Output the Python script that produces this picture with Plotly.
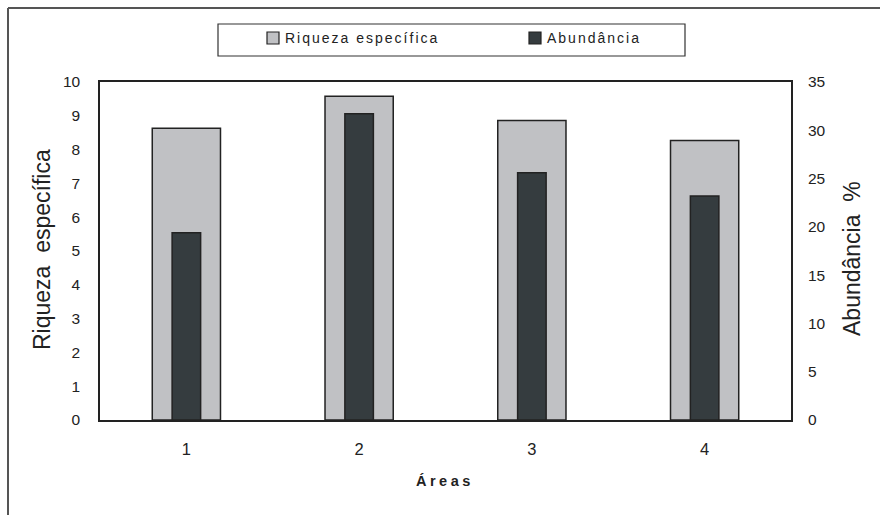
import plotly.graph_objects as go

areas = [1, 2, 3, 4]
riqueza = [8.63, 9.58, 8.86, 8.27]
abundancia = [19.4, 31.7, 25.6, 23.2]

left_ticks = list(range(0, 11))
right_ticks = list(range(0, 36, 5))

FONT = "Liberation Sans, Arial, sans-serif"
LIGHT = "#C0C1C4"
DARK = "#353C3F"
EDGE = "#222222"

# plot area geometry (px) used for paper conversions of annotations
W, H = 880, 515
ML, MR, MT, MB = 100, 89, 82, 95
PW = W - ML - MR
PH = H - MT - MB


def px(x):
    return (x - ML) / PW


def py(y):
    return (H - MB - y) / PH


fig = go.Figure()
fig.add_trace(go.Bar(
    x=areas, y=riqueza, width=0.395, name="Riqueza específica",
    marker=dict(color=LIGHT, line=dict(color=EDGE, width=1.5)),
    yaxis="y", showlegend=False,
))
fig.add_trace(go.Bar(
    x=areas, y=abundancia, width=0.165, name="Abundância",
    marker=dict(color=DARK, line=dict(color=EDGE, width=1.5)),
    yaxis="y2", showlegend=False,
))

fig.update_layout(
    width=W, height=H,
    margin=dict(l=ML, r=MR, t=MT, b=MB, pad=0),
    paper_bgcolor="white", plot_bgcolor="white",
    barmode="overlay",
    font=dict(family=FONT, size=15, color="#222"),
    xaxis=dict(
        range=[0.5, 4.5], tickmode="array", tickvals=areas,
        ticktext=[str(a) for a in areas],
        showgrid=False, zeroline=False, showline=True, linecolor=EDGE,
        linewidth=1.5, mirror=True, ticks="", ticklabelstandoff=13,
        tickfont=dict(size=16.5),
    ),
    yaxis=dict(
        range=[0, 10], tickmode="array", tickvals=left_ticks,
        showgrid=False, zeroline=False, showline=True, linecolor=EDGE,
        linewidth=1.5, mirror=True, ticks="", ticklabelstandoff=15,
        tickfont=dict(size=15.5),
    ),
    yaxis2=dict(
        range=[0, 35], tickmode="array", tickvals=right_ticks,
        overlaying="y", side="right",
        showgrid=False, zeroline=False, showline=False, ticks="",
        ticklabelstandoff=16, tickfont=dict(size=15.5),
    ),
)

annotations = [
    dict(text="Riqueza  específica", x=px(42), y=py(250), textangle=-90,
         font=dict(size=23)),
    dict(text="Abundância  %", x=px(852), y=py(259), textangle=-90,
         font=dict(size=23)),
    dict(text="<b><span style='letter-spacing:3.5px'>Áreas</span></b>",
         x=px(445), y=py(481), font=dict(size=14.5)),
    dict(text="<span style='letter-spacing:2px'>Riqueza específica</span>",
         x=px(283), y=py(38), xanchor="left", font=dict(size=14)),
    dict(text="<span style='letter-spacing:2px'>Abundância</span>",
         x=px(545), y=py(38), xanchor="left", font=dict(size=14)),
]
for a in annotations:
    a.setdefault("xanchor", "center")
    fig.add_annotation(xref="paper", yref="paper", showarrow=False,
                       yanchor="middle", **a)

shapes = [
    # legend box
    dict(type="rect", x0=px(218), x1=px(685), y0=py(24), y1=py(56),
         line=dict(color="#333", width=1.2), fillcolor="white"),
    dict(type="rect", x0=px(267), x1=px(279), y0=py(32), y1=py(44),
         line=dict(color="#222", width=1.2), fillcolor=LIGHT),
    dict(type="rect", x0=px(529), x1=px(541), y0=py(32), y1=py(44),
         line=dict(color="#222", width=1.2), fillcolor=DARK),
    # outer frame (top and left visible)
    dict(type="line", x0=px(8), x1=px(900), y0=py(8), y1=py(8),
         line=dict(color="#555", width=2)),
    dict(type="line", x0=px(8), x1=px(8), y0=py(8), y1=py(540),
         line=dict(color="#555", width=2)),
]
for s in shapes:
    fig.add_shape(xref="paper", yref="paper", layer="above", **s)

fig.write_html("out.html")
